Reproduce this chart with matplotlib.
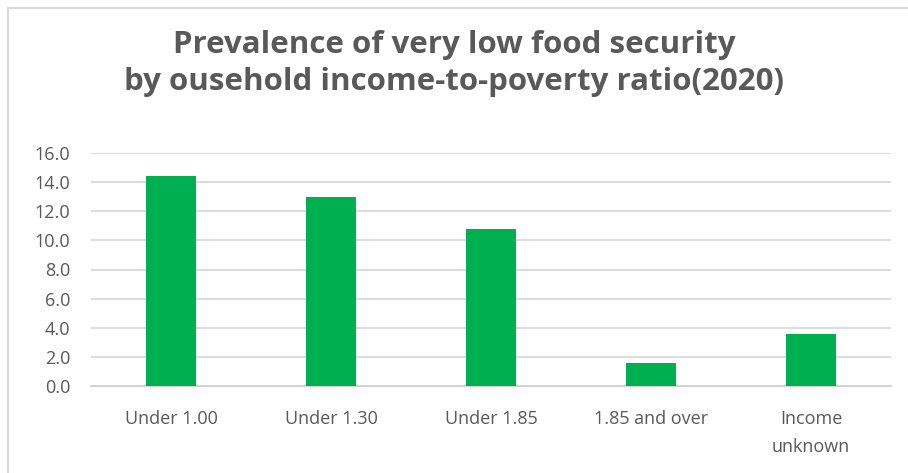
import matplotlib
matplotlib.use("Agg")
import matplotlib.pyplot as plt
from matplotlib.patches import Rectangle

categories = ["Under 1.00", "Under 1.30", "Under 1.85", "1.85 and over", "Income\nunknown"]
values = [14.4, 13.0, 10.8, 1.6, 3.6]
yticks = [0, 2, 4, 6, 8, 10, 12, 14, 16]
title_lines = ["Prevalence of very low food security",
               "by ousehold income-to-poverty ratio(2020)"]

plt.rcParams['font.family'] = ['Open Sans', 'DejaVu Sans']
txt = '#595959'
grid = '#d9d9d9'

fig = plt.figure(figsize=(9.08, 4.73), dpi=100)
fig.patch.set_facecolor('white')
ax = fig.add_axes([91/908, 1-386/473, 800/908, 233/473])

x = list(range(len(categories)))
ax.bar(x, values, width=0.31, color='#00b050', zorder=3)
ax.set_xlim(-0.5, len(categories)-0.5)
ax.set_ylim(0, 16)
ax.set_yticks(yticks)
ax.set_yticklabels([f"{v:.1f}" for v in yticks])
ax.set_xticks(x)
ax.set_xticklabels(categories, linespacing=1.75)
ax.grid(axis='y', color=grid, linewidth=1.3, zorder=0)
for s in ['top', 'right', 'left']:
    ax.spines[s].set_visible(False)
ax.spines['bottom'].set_color('#d0d0d0')
ax.spines['bottom'].set_linewidth(1.3)
ax.tick_params(axis='both', length=0, colors=txt, labelsize=13)
ax.tick_params(axis='y', pad=15)
ax.tick_params(axis='x', pad=17)
for lab in ax.get_xticklabels() + ax.get_yticklabels():
    lab.set_color(txt)

for i, (line, ypix) in enumerate(zip(title_lines, [45, 82])):
    fig.text(0.5, 1-ypix/473, line, ha='center', va='center', fontsize=22.5,
             fontweight='bold', color=txt)

fig.patches.append(Rectangle((8/908, -0.1), 1.2, 1-8/473+0.1, transform=fig.transFigure,
                             fill=False, edgecolor=grid, linewidth=1.5))

fig.savefig("out.png", dpi=100, facecolor='white')
